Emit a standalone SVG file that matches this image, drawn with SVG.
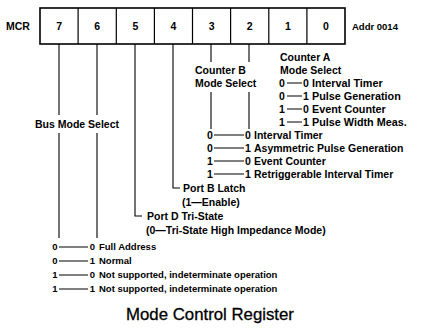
<svg xmlns="http://www.w3.org/2000/svg" width="427" height="331" viewBox="0 0 427 331">
<style>
  text { font-family: "Liberation Sans", Arial, sans-serif; fill: #000; }
  .h { font-size: 10.5px; font-weight: bold; }
  .a { font-size: 10.8px; font-weight: bold; }
  .s { font-size: 9.5px; font-weight: bold; }
  .d { font-size: 10.5px; font-weight: bold; text-anchor: middle; }
  .t { font-size: 16.8px; text-anchor: middle; stroke: #000; stroke-width: 0.3; }
  .box { fill: #fff; stroke: #000; stroke-width: 1.6; }
  .div { stroke: #000; stroke-width: 1.2; }
  .c { fill: none; stroke: #000; stroke-width: 1.1; }
</style>
<rect width="427" height="331" fill="#fff"/>

<g id="mcr-register">
  <text class="h" x="6" y="29.5">MCR</text>
  <rect class="box" x="40" y="8" width="305" height="36"/>
  <line class="div" x1="78.1" y1="8" x2="78.1" y2="44"/>
  <line class="div" x1="116.3" y1="8" x2="116.3" y2="44"/>
  <line class="div" x1="154.4" y1="8" x2="154.4" y2="44"/>
  <line class="div" x1="192.5" y1="8" x2="192.5" y2="44"/>
  <line class="div" x1="230.6" y1="8" x2="230.6" y2="44"/>
  <line class="div" x1="268.8" y1="8" x2="268.8" y2="44"/>
  <line class="div" x1="306.9" y1="8" x2="306.9" y2="44"/>
  <text class="d" x="59.1" y="29.5">7</text>
  <text class="d" x="97.2" y="29.5">6</text>
  <text class="d" x="135.3" y="29.5">5</text>
  <text class="d" x="173.4" y="29.5">4</text>
  <text class="d" x="211.6" y="29.5">3</text>
  <text class="d" x="249.7" y="29.5">2</text>
  <text class="d" x="287.8" y="29.5">1</text>
  <text class="d" x="325.9" y="29.5">0</text>
  <text class="s" x="352" y="29.5">Addr 0014</text>
</g>

<g id="connectors">
  <path class="c" d="M59 44V115M59 133V238"/>
  <path class="c" d="M97 44V115M97 133V238"/>
  <path class="c" d="M135 44V216H142"/>
  <path class="c" d="M173 44V188H180"/>
  <path class="c" d="M211 44V62M211 92V129"/>
  <path class="c" d="M249 44V62M249 92V129"/>
  <path class="c" d="M287 83H302M287 96H302M287 109H302M287 122H302"/>
  <path class="c" d="M214 135H244M214 148H244M214 161H244M214 174H244"/>
  <path class="c" d="M59 247H88M59 261H88M59 275H88M59 289H88"/>
</g>

<g id="counter-a">
  <text class="h" x="280" y="60.7">Counter A</text>
  <text class="h" x="280" y="73.7">Mode Select</text>
  <text class="d" x="282" y="86.7">0</text><text class="d" x="306" y="86.7">0</text><text class="a" x="312" y="86.7">Interval Timer</text>
  <text class="d" x="282" y="99.7">0</text><text class="d" x="306" y="99.7">1</text><text class="a" x="312" y="99.7">Pulse Generation</text>
  <text class="d" x="282" y="112.7">1</text><text class="d" x="306" y="112.7">0</text><text class="a" x="312" y="112.7">Event Counter</text>
  <text class="d" x="282" y="125.7">1</text><text class="d" x="306" y="125.7">1</text><text class="a" x="312" y="125.7">Pulse Width Meas.</text>
</g>

<g id="counter-b">
  <text class="h" x="195" y="73.7">Counter B</text>
  <text class="h" x="195" y="86.7">Mode Select</text>
  <text class="d" x="210" y="138.7">0</text><text class="d" x="248" y="138.7">0</text><text class="h" x="254" y="138.7">Interval Timer</text>
  <text class="d" x="210" y="151.7">0</text><text class="d" x="248" y="151.7">1</text><text class="h" x="254" y="151.7">Asymmetric Pulse Generation</text>
  <text class="d" x="210" y="164.7">1</text><text class="d" x="248" y="164.7">0</text><text class="h" x="254" y="164.7">Event Counter</text>
  <text class="d" x="210" y="177.7">1</text><text class="d" x="248" y="177.7">1</text><text class="h" x="254" y="177.7">Retriggerable Interval Timer</text>
</g>

<g id="port-b">
  <text class="h" x="183" y="191.7">Port B Latch</text>
  <text class="h" x="182" y="205.7">(1—Enable)</text>
</g>

<g id="port-d">
  <text class="h" x="147" y="219.7">Port D Tri-State</text>
  <text class="h" x="146" y="233.7">(0—Tri-State High Impedance Mode)</text>
</g>

<g id="bus-mode">
  <text class="h" x="35" y="127.7">Bus Mode Select</text>
  <text class="s" x="55" y="250.4" text-anchor="middle">0</text><text class="s" x="92.5" y="250.4" text-anchor="middle">0</text><text class="s" x="99" y="250.4">Full Address</text>
  <text class="s" x="55" y="264.4" text-anchor="middle">0</text><text class="s" x="92.5" y="264.4" text-anchor="middle">1</text><text class="s" x="99" y="264.4">Normal</text>
  <text class="s" x="55" y="278.4" text-anchor="middle">1</text><text class="s" x="92.5" y="278.4" text-anchor="middle">0</text><text class="s" x="99" y="278.4">Not supported, indeterminate operation</text>
  <text class="s" x="55" y="292.4" text-anchor="middle">1</text><text class="s" x="92.5" y="292.4" text-anchor="middle">1</text><text class="s" x="99" y="292.4">Not supported, indeterminate operation</text>
</g>

<g id="title">
  <text class="t" x="210" y="320">Mode Control Register</text>
</g>
</svg>
